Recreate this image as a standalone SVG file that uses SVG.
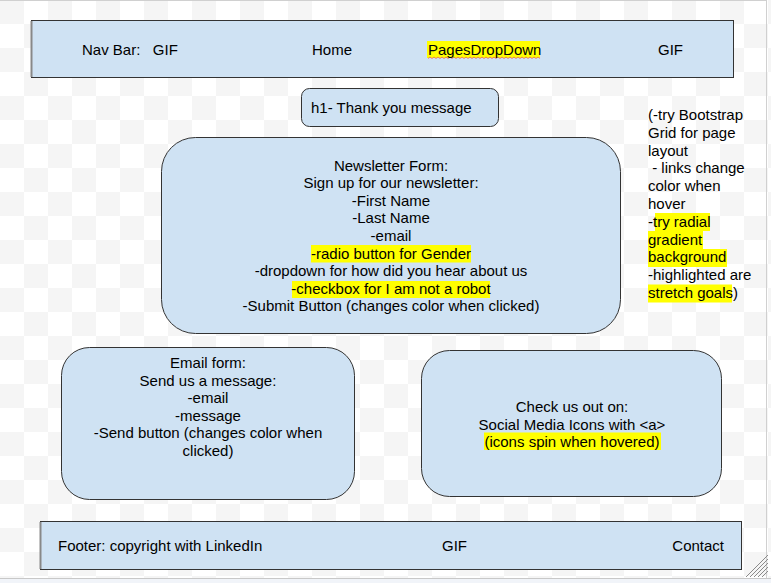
<svg xmlns="http://www.w3.org/2000/svg" width="771" height="583" viewBox="0 0 771 583">
<defs>
<pattern id="checker" x="0" y="0" width="48" height="48" patternUnits="userSpaceOnUse">
<rect width="48" height="48" fill="#ffffff"/>
<rect x="0" y="0" width="24" height="24" fill="#f5f5f5"/>
<rect x="24" y="24" width="24" height="24" fill="#f5f5f5"/>
</pattern>
</defs>
<style>
.box{fill:#cfe2f3;stroke:#333333;stroke-width:1}
text{font-family:"Liberation Sans",Arial,sans-serif;font-size:15px;fill:#000000}
.c{text-anchor:middle}
.hl{fill:#ffff00}
</style>
<rect width="771" height="583" fill="url(#checker)"/>
<rect x="0" y="578" width="771" height="5" fill="#f1f4f9"/>
<line x1="0" y1="578.5" x2="771" y2="578.5" stroke="#c8c8c8"/>
<line x1="0" y1="0.5" x2="766" y2="0.5" stroke="#d0d0d0"/>
<line x1="766.5" y1="0" x2="766.5" y2="578" stroke="#d0d0d0"/>
<g id="grip" stroke="#8a8a8a" stroke-width="1">
<line x1="746" y1="577" x2="768" y2="555"/>
<line x1="750" y1="577" x2="768" y2="559"/>
<line x1="754" y1="577" x2="768" y2="563"/>
<line x1="758" y1="577" x2="768" y2="567"/>
<line x1="762" y1="577" x2="768" y2="571"/>
</g>

<g id="navbar">
<rect class="box" x="31.5" y="20.5" width="702" height="57"/>
<line x1="31.5" y1="21" x2="31.5" y2="77" stroke="#888" stroke-width="2"/>
<rect class="hl" x="427" y="41" width="113" height="17"/>
<path d="M428 58.5 l2 -1.5 l2 1.5 l2 -1.5 l2 1.5 l2 -1.5 l2 1.5 l2 -1.5 l2 1.5 l2 -1.5 l2 1.5 l2 -1.5 l2 1.5 l2 -1.5 l2 1.5 l2 -1.5 l2 1.5 l2 -1.5 l2 1.5 l2 -1.5 l2 1.5 l2 -1.5 l2 1.5 l2 -1.5 l2 1.5 l2 -1.5 l2 1.5 l2 -1.5 l2 1.5 l2 -1.5 l2 1.5 l2 -1.5 l2 1.5 l2 -1.5 l2 1.5 l2 -1.5 l2 1.5 l2 -1.5 l2 1.5 l2 -1.5 l2 1.5 l2 -1.5 l2 1.5 l2 -1.5 l2 1.5 l2 -1.5 l2 1.5 l2 -1.5 l2 1.5 l2 -1.5 l2 1.5 l2 -1.5 l2 1.5 l2 -1.5 l2 1.5 l2 -1.5 l2 1.5" fill="none" stroke="#e06070" stroke-width="0.8"/>
<text x="82" y="55" xml:space="preserve">Nav Bar:   GIF</text>
<text x="312" y="55">Home</text>
<text x="428" y="55">PagesDropDown</text>
<text x="658" y="55">GIF</text>
</g>

<g id="h1">
<rect class="box" x="301.5" y="88.5" width="197" height="38" rx="8" ry="8"/>
<text x="311" y="113">h1- Thank you message</text>
</g>

<g id="newsletter">
<rect class="box" x="161.5" y="137.5" width="459" height="196" rx="34" ry="34"/>
<rect class="hl" x="311" y="245" width="160" height="17.5"/>
<rect class="hl" x="292" y="281" width="198" height="17"/>
<text class="c" x="391" y="170.5">Newsletter Form:</text>
<text class="c" x="391" y="188">Sign up for our newsletter:</text>
<text class="c" x="391" y="205.8">-First Name</text>
<text class="c" x="391" y="223.4">-Last Name</text>
<text class="c" x="391" y="241">-email</text>
<text class="c" x="391" y="258.6">-radio button for Gender</text>
<text class="c" x="391" y="276.2">-dropdown for how did you hear about us</text>
<text class="c" x="391" y="293.8">-checkbox for I am not a robot</text>
<text class="c" x="391" y="311.4">-Submit Button (changes color when clicked)</text>
</g>

<g id="notes">
<rect class="hl" x="655" y="213" width="55" height="18"/>
<rect class="hl" x="648" y="231" width="55" height="18"/>
<rect class="hl" x="648" y="249" width="79" height="18"/>
<rect class="hl" x="648" y="284.5" width="84" height="18"/>
<text x="648" y="120">(-try Bootstrap</text>
<text x="648" y="137.8">Grid for page</text>
<text x="648" y="155.6">layout</text>
<text x="648" y="173.4" xml:space="preserve"> - links change</text>
<text x="648" y="191.2">color when</text>
<text x="648" y="209">hover</text>
<text x="648" y="226.8">-try radial</text>
<text x="648" y="244.6">gradient</text>
<text x="648" y="262.4">background</text>
<text x="648" y="280.2">-highlighted are</text>
<text x="648" y="298">stretch goals)</text>
</g>

<g id="emailform">
<rect class="box" x="61.5" y="347.5" width="293" height="152" rx="28" ry="28"/>
<text class="c" x="208" y="368">Email form:</text>
<text class="c" x="208" y="385.6">Send us a message:</text>
<text class="c" x="208" y="403.2">-email</text>
<text class="c" x="208" y="420.8">-message</text>
<text class="c" x="208" y="438.4">-Send button (changes color when</text>
<text class="c" x="208" y="456">clicked)</text>
</g>

<g id="social">
<rect class="box" x="421.5" y="350.5" width="300" height="146" rx="28" ry="28"/>
<rect class="hl" x="484" y="432.5" width="177" height="17.5"/>
<text class="c" x="572" y="412">Check us out on:</text>
<text class="c" x="572" y="429.6">Social Media Icons with &lt;a&gt;</text>
<text class="c" x="572" y="447.2">(icons spin when hovered)</text>
</g>

<g id="footer">
<rect class="box" x="40.5" y="521.5" width="701" height="48"/>
<line x1="40.5" y1="522" x2="40.5" y2="569" stroke="#888" stroke-width="2"/>
<text x="58" y="551">Footer: copyright with LinkedIn</text>
<text x="442" y="551">GIF</text>
<text x="724" y="551" text-anchor="end">Contact</text>
</g>

<g id="connectors"></g>
</svg>
